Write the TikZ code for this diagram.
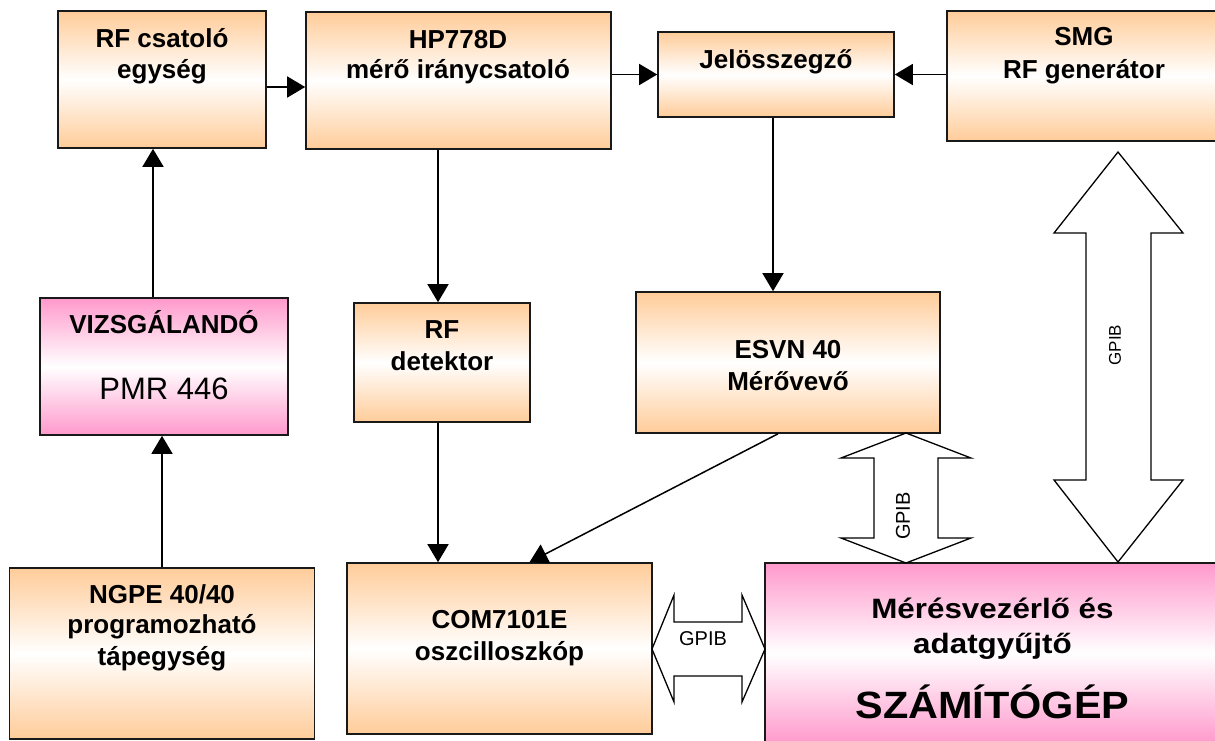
\documentclass[tikz,border=0pt]{standalone}
\usepackage{fontspec}
\setmainfont{Liberation Sans}
\usetikzlibrary{arrows.meta}
\definecolor{orng}{RGB}{255,204,153}
\definecolor{pnk}{RGB}{255,153,204}
\definecolor{edge}{RGB}{25,25,25}
\begin{document}
\begin{tikzpicture}[x=1pt,y=-1pt,
  obox/.style={draw=edge, line width=1.6pt, rectangle, inner sep=0pt,
    top color=orng, bottom color=orng, middle color=white},
  pbox/.style={draw=edge, line width=1.6pt, rectangle, inner sep=0pt,
    top color=pnk, bottom color=pnk, middle color=white},
  lbl/.style={anchor=base, inner sep=0pt, font=\fontsize{26}{31}\selectfont\bfseries},
  arr/.style={line width=1.5pt, draw=black, -{Triangle[length=18pt,width=21pt]}},
  bus/.style={draw=black, line width=1.3pt, fill=white, line join=miter},
  gpib/.style={inner sep=0pt, font=\fontsize{20}{24}\selectfont}
]
\clip (0,0) rectangle (1215,740);
\fill[white] (0,0) rectangle (1215,740);

% boxes
\node[obox, minimum width=208pt, minimum height=137pt] (rfc) at (162,79.5) {};
\node[obox, minimum width=305pt, minimum height=137pt] (hp) at (458.5,80.5) {};
\node[obox, minimum width=236pt, minimum height=85pt] (jel) at (776,74.5) {};
\node[obox, minimum width=274pt, minimum height=130pt] (smg) at (1084,76) {};
\node[obox, minimum width=176pt, minimum height=119pt] (rfd) at (442,362.5) {};
\node[obox, minimum width=304pt, minimum height=141pt] (esvn) at (788,362.5) {};
\node[pbox, minimum width=248pt, minimum height=137pt] (vizs) at (164,366.5) {};
\node[obox, minimum width=305pt, minimum height=171pt] (com) at (499.5,648.5) {};
\node[obox, minimum width=305pt, minimum height=171pt] (ngpe) at (162,653.5) {};
\node[pbox, minimum width=455pt, minimum height=181pt] (sz) at (992.5,653.5) {};

% texts
\node[lbl] (rfc1) at (162,47) {RF csatoló};
\node[lbl] (rfc2) at (162,78) {egység};
\node[lbl] (hp1) at (458,48) {HP778D};
\node[lbl] (hp2) at (458,78) {mérő iránycsatoló};
\node[lbl] (jel1) at (776,68) {Jelösszegző};
\node[lbl] (smg1) at (1084,45) {SMG};
\node[lbl] (smg2) at (1084,78) {RF generátor};
\node[lbl] (rfd1) at (442,338) {RF};
\node[lbl] (rfd2) at (442,370) {detektor};
\node[lbl] (esvn1) at (788,358) {ESVN 40};
\node[lbl] (esvn2) at (788,390) {Mérővevő};
\node[lbl] (vizs1) at (164,333) {VIZSGÁLANDÓ};
\node[lbl, font=\fontsize{31}{36}\selectfont] (vizs2) at (164,399) {PMR 446};
\node[lbl] (ngpe1) at (162,603) {NGPE 40/40};
\node[lbl] (ngpe2) at (162,633) {programozható};
\node[lbl] (ngpe3) at (162,665) {tápegység};
\node[lbl] (com1) at (499.5,628) {COM7101E};
\node[lbl] (com2) at (499.5,660) {oszcilloszkóp};
\node[lbl, font=\fontsize{28}{33}\selectfont\bfseries] (sz1) at (992.5,618) {\scalebox{1.12}[1]{Mérésvezérlő és}};
\node[lbl, font=\fontsize{28}{33}\selectfont\bfseries] (sz2) at (992.5,653) {\scalebox{1.12}[1]{adatgyűjtő}};
\node[lbl, font=\fontsize{38}{44}\selectfont\bfseries] (sz3) at (992.5,718) {\scalebox{1.09}[1]{SZÁMÍTÓGÉP}};

% connectors
\coordinate (c1) at ([yshift=-7.5pt]rfc.east);
\draw[arr] (c1) -- (c1 -| hp.west);
\draw[arr] (hp.east |- jel.west) -- (jel.west);
\draw[arr] (smg.west |- jel.east) -- (jel.east);
\coordinate (c2) at ([xshift=-3pt]jel.south);
\draw[arr] (c2) -- (c2 |- esvn.north);
\coordinate (c3) at ([xshift=-4pt]rfd.north);
\draw[arr] (c3 |- hp.south) -- (c3);
\coordinate (c4) at ([xshift=-4pt]rfd.south);
\draw[arr] (c4) -- (c4 |- com.north);
\coordinate (c5) at ([xshift=-10pt]esvn.south);
\coordinate (c6) at ([xshift=30pt]com.north);
\draw[arr] (c5) -- (c6);
\coordinate (c7) at ([xshift=-9pt]rfc.south);
\draw[arr] (c7 |- vizs.north) -- (c7);
\draw[arr] (ngpe.north) -- (ngpe.north |- vizs.south);

% GPIB buses
\draw[bus] (652,649) -- (674,595) -- (674,622) -- (742,622) -- (742,595) -- (765,649)
  -- (742,702) -- (742,676) -- (674,676) -- (674,702) -- cycle;
\node[gpib] (g1) at (703,639) {GPIB};
\draw[bus] (906,433) -- (971,458) -- (938,458) -- (938,538) -- (971,538) -- (906,563)
  -- (841,538) -- (874,538) -- (874,458) -- (841,458) -- cycle;
\node[gpib, rotate=90] (g2) at (903,516) {GPIB};
\draw[bus] (1118,152) -- (1183,233) -- (1151,233) -- (1151,480) -- (1183,480) -- (1118,562)
  -- (1054,480) -- (1086,480) -- (1086,233) -- (1054,233) -- cycle;
\node[gpib, rotate=90, font=\fontsize{17}{20}\selectfont] (g3) at (1115,345) {GPIB};
\end{tikzpicture}
\end{document}
